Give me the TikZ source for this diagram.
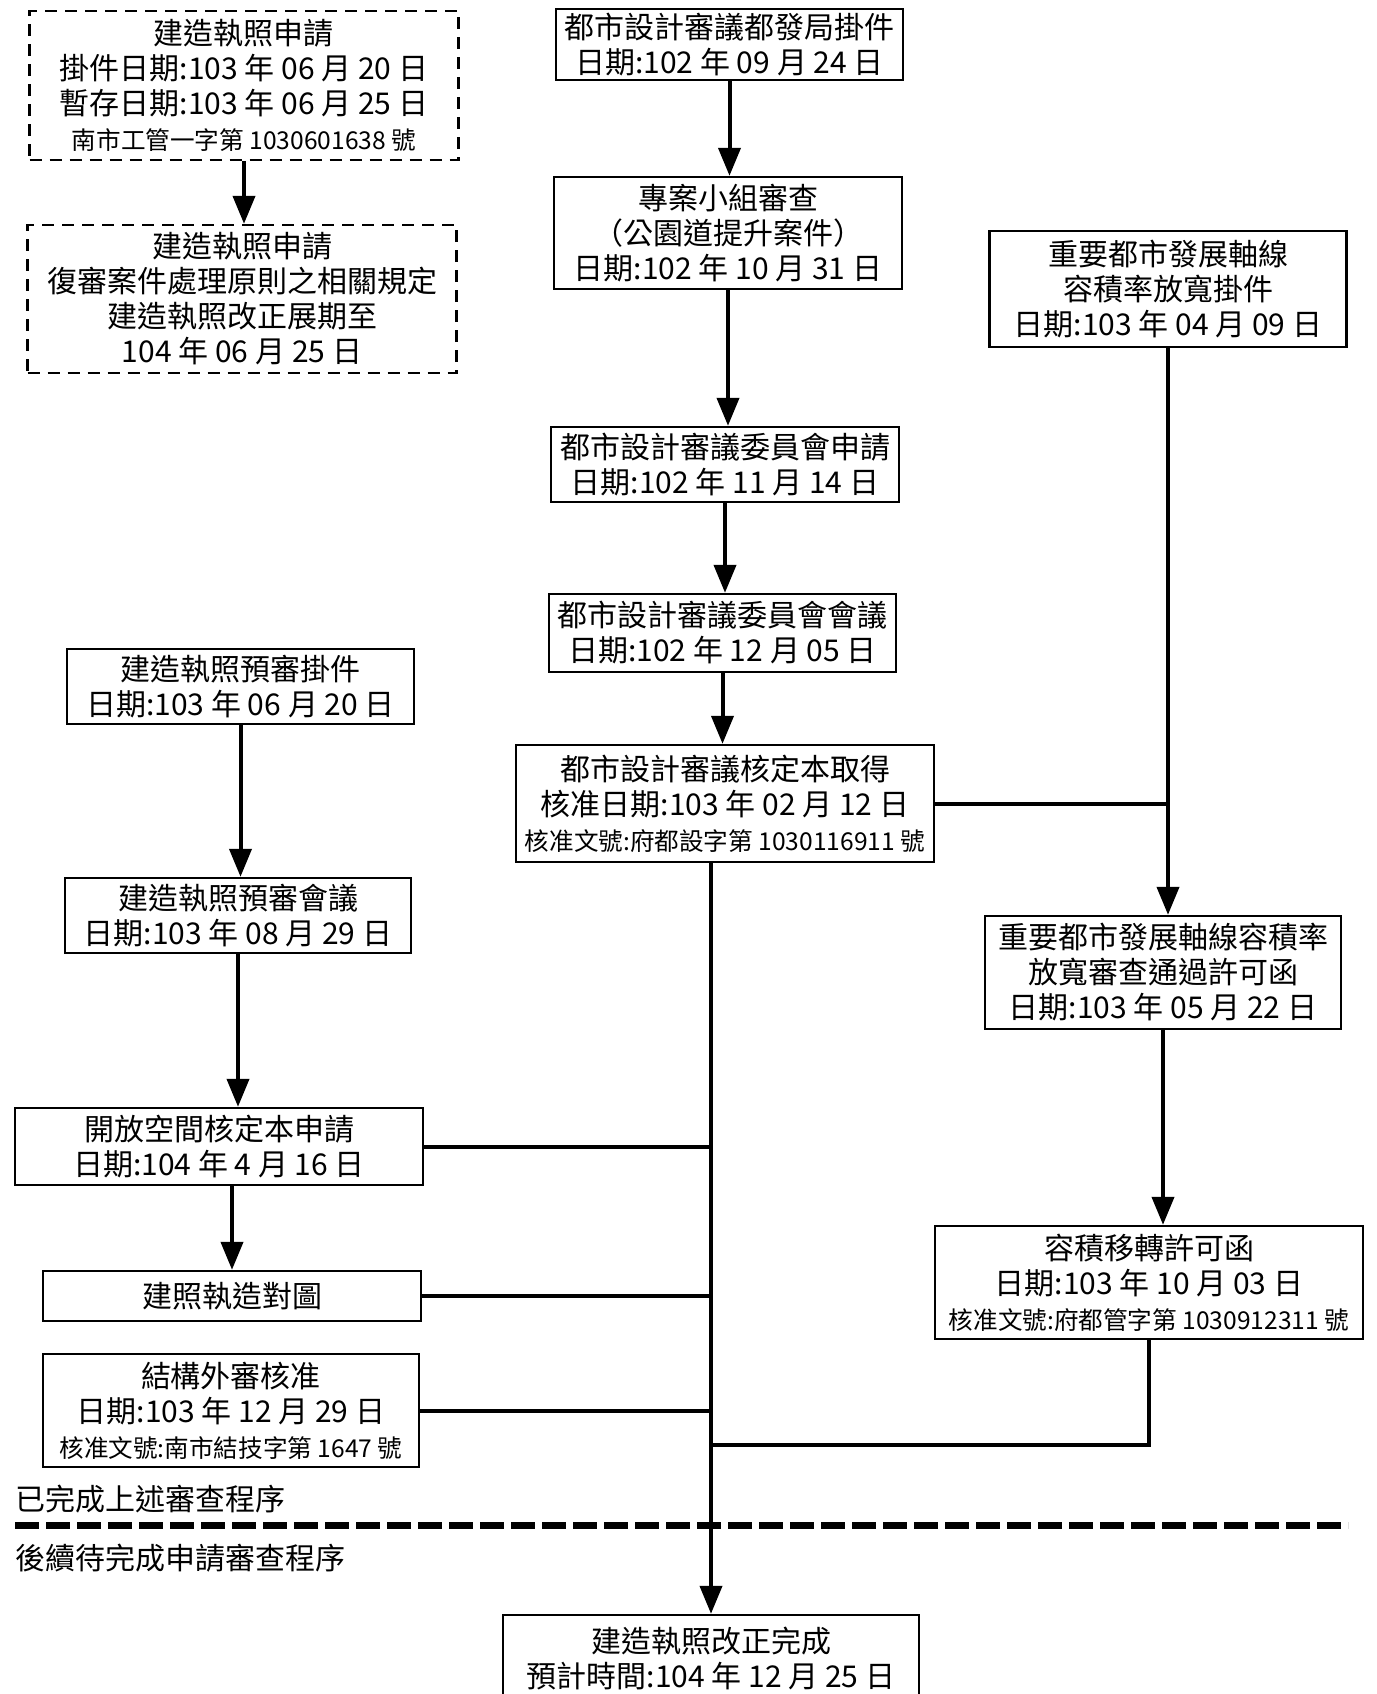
\documentclass[tikz,border=0pt]{standalone}
\usepackage{fontspec}
\newfontfamily\cjk{Noto Sans CJK TC}
\usetikzlibrary{arrows.meta}
\newcommand{\smalltxt}{\fontsize{12.3}{15}\selectfont}
\tikzset{
  flowbox/.style={draw=black,line width=1.2pt,fill=white,align=center,inner sep=1.5pt,font=\cjk\fontsize{15}{17.5}\selectfont},
  dashbox/.style={flowbox,dash pattern=on 6pt off 4pt},
  link/.style={black,line width=2pt},
}
\begin{document}
\begin{tikzpicture}[x=0.5pt,y=-0.5pt,>={Triangle[width=11pt,length=14pt]}]
\path[use as bounding box,clip] (0,0) rectangle (1377,1694);
\fill[white] (0,0) rectangle (1377,1694);
\node[dashbox,minimum width=214.5pt,minimum height=74.5pt] (apply) at (244,85.5) {建造執照申請\\掛件日期:103 年 06 月 20 日\\暫存日期:103 年 06 月 25 日\\{\smalltxt 南市工管一字第 1030601638 號}};
\node[dashbox,minimum width=214.5pt,minimum height=74pt] (extend) at (242,299) {建造執照申請\\復審案件處理原則之相關規定\\建造執照改正展期至\\104 年 06 月 25 日};
\node[flowbox,minimum width=173.5pt,minimum height=35.5pt] (ucfile) at (729.5,44.5) {都市設計審議都發局掛件\\日期:102 年 09 月 24 日};
\node[flowbox,minimum width=174pt,minimum height=56pt] (panel) at (728,233) {專案小組審查\\（公園道提升案件）\\日期:102 年 10 月 31 日};
\node[flowbox,minimum width=178.5pt,minimum height=58pt] (farfile) at (1168,289) {重要都市發展軸線\\容積率放寬掛件\\日期:103 年 04 月 09 日};
\node[flowbox,minimum width=174pt,minimum height=37.5pt] (ucapply) at (725,464.5) {都市設計審議委員會申請\\日期:102 年 11 月 14 日};
\node[flowbox,minimum width=173.5pt,minimum height=39pt] (ucmeet) at (722.5,633) {都市設計審議委員會會議\\日期:102 年 12 月 05 日};
\node[flowbox,minimum width=209pt,minimum height=58.5pt] (ucok) at (725,803.5) {都市設計審議核定本取得\\核准日期:103 年 02 月 12 日\\{\smalltxt 核准文號:府都設字第 1030116911 號}};
\node[flowbox,minimum width=178pt,minimum height=56.5pt] (farok) at (1163,972.5) {重要都市發展軸線容積率\\放寬審查通過許可函\\日期:103 年 05 月 22 日};
\node[flowbox,minimum width=214pt,minimum height=56.5pt] (transfer) at (1149,1282.5) {容積移轉許可函\\日期:103 年 10 月 03 日\\{\smalltxt 核准文號:府都管字第 1030912311 號}};
\node[flowbox,minimum width=173.5pt,minimum height=37.5pt] (prefile) at (240.5,686.5) {建造執照預審掛件\\日期:103 年 06 月 20 日};
\node[flowbox,minimum width=173pt,minimum height=37.5pt] (premeet) at (238,915.5) {建造執照預審會議\\日期:103 年 08 月 29 日};
\node[flowbox,minimum width=204pt,minimum height=38.5pt] (openspace) at (219,1146.5) {開放空間核定本申請\\日期:104 年 4 月 16 日};
\node[flowbox,minimum width=189pt,minimum height=25pt] (drawing) at (232,1296) {建照執造對圖};
\node[flowbox,minimum width=188pt,minimum height=56.5pt] (struct) at (231,1410.5) {結構外審核准\\日期:103 年 12 月 29 日\\{\smalltxt 核准文號:南市結技字第 1647 號}};
\node[flowbox,minimum width=208pt,minimum height=43pt] (done) at (711,1658) {建造執照改正完成\\預計時間:104 年 12 月 25 日};
\coordinate (tmerge) at (713,1445);
\draw[link,->] (apply.south) -- (apply.south |- extend.north);
\draw[link,->] (ucfile.south) -- (ucfile.south |- panel.north);
\draw[link,->] (panel.south) -- (panel.south |- ucapply.north);
\draw[link,->] (ucapply.south) -- (ucapply.south |- ucmeet.north);
\draw[link,->] (ucmeet.south) -- (ucmeet.south |- ucok.north);
\draw[link,->] (farfile.south) -- (farfile.south |- farok.north);
\draw[link] (ucok.east) -- (ucok.east -| farfile.south);
\draw[link,->] (farok.south) -- (farok.south |- transfer.north);
\draw[link] (transfer.south) |- (tmerge);
\draw[link,->] (prefile.south) -- (prefile.south |- premeet.north);
\draw[link,->] (premeet.south) -- (premeet.south |- openspace.north);
\draw[link,->] (drawing.north |- openspace.south) -- (drawing.north);
\draw[link] (openspace.east) -- (openspace.east -| done.north);
\draw[link] (drawing.east) -- (drawing.east -| done.north);
\draw[link] (struct.east) -- (struct.east -| done.north);
\draw[link,->] (ucok.south -| done.north) -- (done.north);
\draw[line width=3.5pt,dash pattern=on 12pt off 3.5pt] (15,1525) -- (1348,1525);
\node[anchor=west,inner sep=0pt,font=\cjk\fontsize{15}{17.5}\selectfont] (finished) at (15,1499) {已完成上述審查程序};
\node[anchor=west,inner sep=0pt,font=\cjk\fontsize{15}{17.5}\selectfont] (pending) at (15,1558) {後續待完成申請審查程序};
\end{tikzpicture}
\end{document}
